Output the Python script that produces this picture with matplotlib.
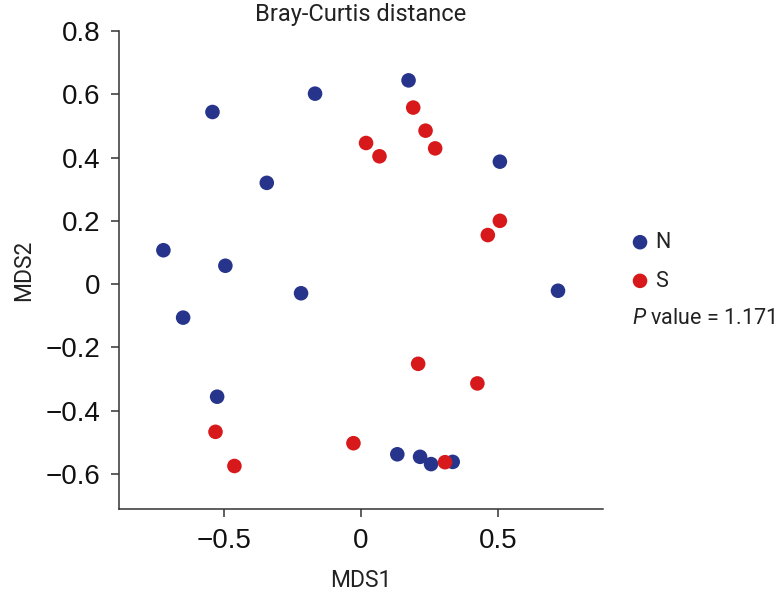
import matplotlib
matplotlib.use("Agg")
import matplotlib.pyplot as plt

plt.rcParams['font.family'] = ['Roboto', 'DejaVu Sans']
plt.rcParams['mathtext.fontset'] = 'custom'
plt.rcParams['mathtext.it'] = 'Roboto:italic'
plt.rcParams['mathtext.rm'] = 'Roboto'

# NMDS coordinates
n_mds1 = [-0.541, -0.167, -0.343, -0.720, -0.494, -0.218, -0.648, -0.524,
          0.133, 0.216, 0.256, 0.335, 0.174, 0.507, 0.719]
n_mds2 = [0.544, 0.602, 0.320, 0.107, 0.058, -0.029, -0.106, -0.356,
          -0.538, -0.546, -0.569, -0.562, 0.644, 0.387, -0.021]
s_mds1 = [0.019, 0.068, -0.530, -0.461, -0.027, 0.209, 0.425, 0.307,
          0.191, 0.236, 0.271, 0.507, 0.463]
s_mds2 = [0.446, 0.404, -0.467, -0.575, -0.503, -0.252, -0.314, -0.563,
          0.558, 0.485, 0.429, 0.200, 0.155]
groups = ["N", "S"]
colors = ["#27348b", "#d7191c"]
p_value = 1.171

xticks = [-0.5, 0, 0.5]
xticklabels = ["\u22120.5", "0", "0.5"]
yticks = [0.8, 0.6, 0.4, 0.2, 0, -0.2, -0.4, -0.6]
yticklabels = ["0.8", "0.6", "0.4", "0.2", "0", "\u22120.2", "\u22120.4", "\u22120.6"]

fig = plt.figure(figsize=(7.74, 5.93), dpi=100)
ax = fig.add_axes([0.1537, 0.1411, 0.625, 0.8066])

ax.scatter(n_mds1, n_mds2, s=110, color=colors[0], edgecolors='none', label=groups[0], zorder=3)
ax.scatter(s_mds1, s_mds2, s=110, color=colors[1], edgecolors='none', label=groups[1], zorder=4)

ax.set_xlim(-0.882, 0.882)
ax.set_ylim(-0.712, 0.8)
ax.set_xticks(xticks)
ax.set_xticklabels(xticklabels, family='Liberation Sans', fontsize=20, color='#111111')
ax.set_yticks(yticks)
ax.set_yticklabels(yticklabels, family='Liberation Sans', fontsize=20, color='#111111')

for side in ['top', 'right']:
    ax.spines[side].set_visible(False)
for side in ['left', 'bottom']:
    ax.spines[side].set_linewidth(1.1)
    ax.spines[side].set_color('#333333')
ax.tick_params(direction='out', length=5.5, width=1.1, color='#333333', pad=8)

# title placed by hand so it sits where the reference has it
fig.text(0.4665, 0.965, "Bray-Curtis distance", fontsize=17, color='#222222',
         ha='center', va='baseline')
ax.set_xlabel("MDS1", fontsize=16.5, color='#222222', labelpad=11)
ax.set_ylabel("MDS2", fontsize=16.5, color='#222222', labelpad=7.5)

leg = fig.legend(handles=ax.collections, labels=groups, loc='upper left',
                 bbox_to_anchor=(0.813, 0.609), bbox_transform=fig.transFigure,
                 frameon=False, fontsize=15.5, handletextpad=0.2, labelspacing=0.82,
                 handlelength=1.0, borderaxespad=0, borderpad=0)
for t in leg.get_texts():
    t.set_color('#222222')

fig.text(0.816, 0.4636, "$P$ value = %.3f" % p_value, fontsize=15.5, color='#222222',
         ha='left', va='center')

fig.savefig("out.png", dpi=100)
